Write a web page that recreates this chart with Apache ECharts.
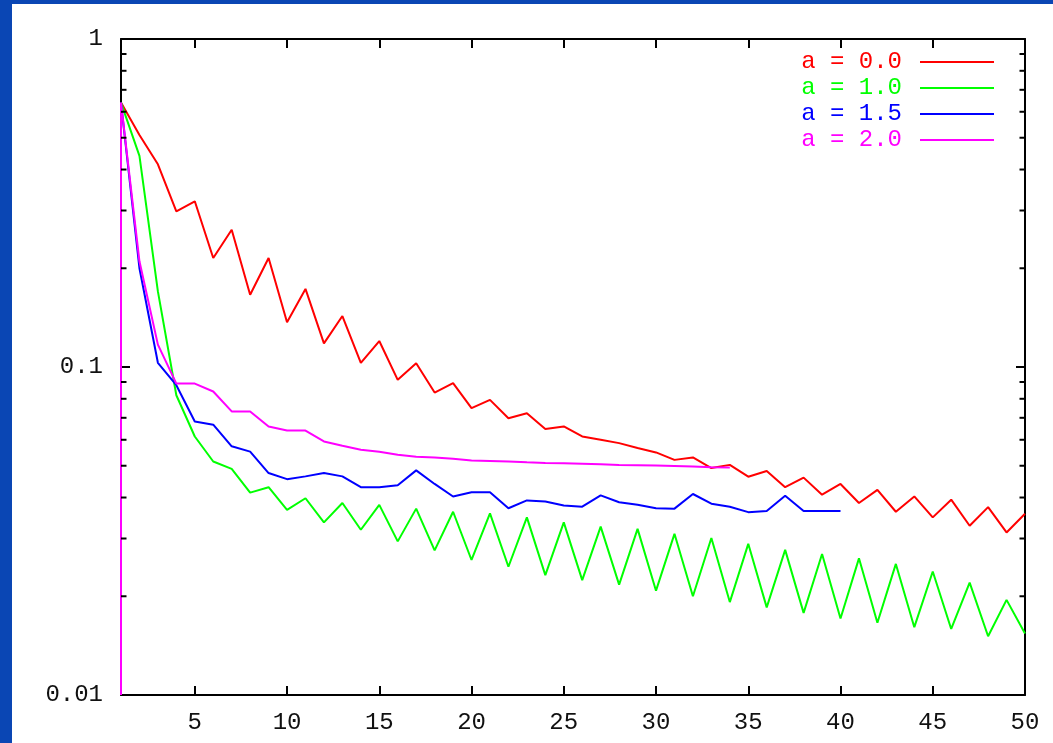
<!DOCTYPE html>
<html><head><meta charset="utf-8">
<script src="https://cdn.jsdelivr.net/npm/echarts@6/dist/echarts.min.js"></script>
<style>
html,body{margin:0;padding:0;background:#0A46B4;width:1053px;height:743px;overflow:hidden}
#c{position:absolute;left:12px;top:4px;width:1041px;height:739px;background:#fff}
</style></head><body><div id="c"></div>
<script>
// ---- data ----
const xTicks = [5, 10, 15, 20, 25, 30, 35, 40, 45, 50];
const yTickLabels = ['0.01', '0.1', '1'];
const yMinorTicks = [0.02, 0.03, 0.04, 0.05, 0.06, 0.07, 0.08, 0.09, 0.2, 0.3, 0.4, 0.5, 0.6, 0.7, 0.8, 0.9];
const seriesNames = ['a = 0.0', 'a = 1.0', 'a = 1.5', 'a = 2.0'];
const seriesColors = ['#FF0000', '#00FF00', '#0000FF', '#FF00FF'];

const red = [0.64, 0.51, 0.415, 0.298, 0.32, 0.215, 0.262, 0.166, 0.215, 0.137,
  0.173, 0.118, 0.143, 0.103, 0.12, 0.0914, 0.1027, 0.0836, 0.0893, 0.0749,
  0.0794, 0.0698, 0.0723, 0.0647, 0.0659, 0.0614, 0.06, 0.0586, 0.0566, 0.0549,
  0.0521, 0.053, 0.0492, 0.0503, 0.0463, 0.0482, 0.043, 0.046, 0.0408, 0.044,
  0.0385, 0.0422, 0.0362, 0.0403, 0.0348, 0.0394, 0.0328, 0.0374, 0.0313, 0.0357];
const green = [0.64, 0.44, 0.17, 0.082, 0.0614, 0.0515, 0.0489, 0.0414, 0.043, 0.0367,
  0.0398, 0.0336, 0.0385, 0.0319, 0.038, 0.0294, 0.037, 0.0276, 0.0362, 0.0258,
  0.0358, 0.0246, 0.0348, 0.0232, 0.0336, 0.0224, 0.0326, 0.0217, 0.0321, 0.0208,
  0.031, 0.02, 0.0301, 0.0192, 0.0289, 0.0185, 0.0277, 0.0178, 0.0269, 0.0171,
  0.0261, 0.0166, 0.0251, 0.0161, 0.0238, 0.0159, 0.022, 0.0151, 0.0195, 0.0154];
const blue = [0.64, 0.2, 0.103, 0.088, 0.0682, 0.0667, 0.0573, 0.0552, 0.0475, 0.0455,
  0.0464, 0.0475, 0.0464, 0.043, 0.043, 0.0436, 0.0484, 0.044, 0.0403, 0.0415,
  0.0415, 0.0371, 0.0392, 0.0389, 0.0378, 0.0375, 0.0406, 0.0387, 0.038, 0.0371,
  0.037, 0.041, 0.0383, 0.0375, 0.0361, 0.0364, 0.0405, 0.0364, 0.0364, 0.0364];
const magentaStart = 0.01;
const magenta = [0.64, 0.21, 0.117, 0.089, 0.089, 0.0842, 0.0732, 0.0732, 0.0659, 0.064,
  0.064, 0.0593, 0.0575, 0.0559, 0.0552, 0.054, 0.0533, 0.053, 0.0525, 0.0519,
  0.0517, 0.0515, 0.0512, 0.051, 0.0509, 0.0507, 0.0505, 0.0503, 0.0502, 0.0501,
  0.0499, 0.0497, 0.0495, 0.0494];

// ---- chart ----
const FONT = 'Liberation Mono';
const toPairs = arr => arr.map((v, i) => [i + 1, v]);
const seriesData = [toPairs(red), toPairs(green), toPairs(blue), [[1, magentaStart]].concat(toPairs(magenta))];

const axisLine = { show: true, lineStyle: { color: '#000', width: 2 } };
const majorTick = { show: true, inside: true, length: 9, lineStyle: { color: '#000', width: 2 } };
const minorLen = 5.5;

const chart = echarts.init(document.getElementById('c'));
chart.setOption({
  animation: false,
  backgroundColor: '#fff',
  grid: { left: 109, right: 28, top: 35, bottom: 48, containLabel: false },
  xAxis: [
    { type: 'value', min: 1, max: 50, position: 'bottom', axisLine, splitLine: { show: false },
      axisTick: Object.assign({ customValues: xTicks }, majorTick),
      axisLabel: { customValues: xTicks, color: '#111', fontFamily: FONT, fontSize: 24, margin: 16 } },
    { type: 'value', min: 1, max: 50, position: 'top', axisLine, splitLine: { show: false },
      axisTick: Object.assign({ customValues: xTicks }, majorTick),
      axisLabel: { show: false } }
  ],
  yAxis: [
    { type: 'log', logBase: 10, min: 0.01, max: 1, position: 'left', axisLine, axisTick: majorTick,
      splitLine: { show: false },
      axisLabel: { color: '#111', fontFamily: FONT, fontSize: 24, margin: 18,
        formatter: v => yTickLabels[Math.round(Math.log10(v)) + 2] } },
    { type: 'log', logBase: 10, min: 0.01, max: 1, position: 'right', axisLine, axisTick: majorTick,
      splitLine: { show: false }, axisLabel: { show: false } }
  ],
  legend: {
    data: seriesNames.map((n, i) => ({ name: n, textStyle: { color: seriesColors[i] } })),
    orient: 'vertical', right: 59, top: 45, padding: 0, align: 'right',
    icon: 'rect', itemWidth: 74, itemHeight: 2, itemGap: 0, selectedMode: false,
    textStyle: { fontFamily: FONT, fontSize: 24, lineHeight: 26, padding: [0, 13, 0, 0] }
  },
  series: seriesNames.map((n, i) => ({
    name: n, type: 'line', data: seriesData[i], color: seriesColors[i],
    showSymbol: false, symbol: 'none', lineStyle: { width: 2, color: seriesColors[i] },
    itemStyle: { color: seriesColors[i] }, clip: true, z: 3
  })).concat([{
    type: 'custom', silent: true, clip: false, z: 4,
    data: yMinorTicks.map(v => [1, v]),
    renderItem(params, api) {
      const y = api.coord([1, api.value(1)])[1];
      const cs = params.coordSys;
      const st = { stroke: '#000', lineWidth: 2 };
      return { type: 'group', children: [
        { type: 'line', shape: { x1: cs.x, y1: y, x2: cs.x + minorLen, y2: y }, style: st },
        { type: 'line', shape: { x1: cs.x + cs.width, y1: y, x2: cs.x + cs.width - minorLen, y2: y }, style: st }
      ] };
    }
  }])
});
</script></body></html>
